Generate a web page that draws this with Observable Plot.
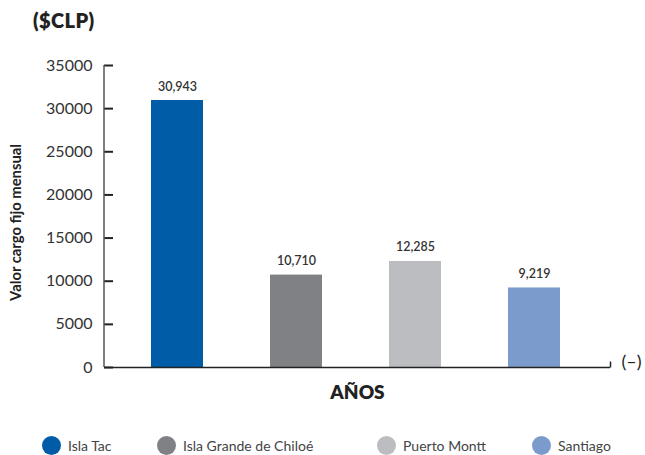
<!DOCTYPE html>
<html>
<head>
<meta charset="utf-8">
<script src="https://cdn.jsdelivr.net/npm/d3@7"></script>
<script src="https://cdn.jsdelivr.net/npm/@observablehq/plot@0.6"></script>
<style>
  html, body { margin: 0; padding: 0; background: #fff; }
  #wrap { position: relative; width: 645px; height: 455px; overflow: hidden; font-family: Lato, sans-serif; }
  #title { position: absolute; left: 33px; top: 8px; font: 800 20px Lato, sans-serif; color: #222; letter-spacing: 0.4px; }
  #chart { position: absolute; left: 0; top: 40px; }
  #legend { position: absolute; left: 0; top: 436px; width: 645px; height: 20px; }
  .item { position: absolute; top: 0; display: flex; align-items: center; font: 14px Lato, sans-serif; color: #444; white-space: nowrap; }
  .sw { width: 19px; height: 19px; border-radius: 50%; margin-right: 7px; }
</style>
</head>
<body>
<div id="wrap">
  <div id="title">($CLP)</div>
  <div id="chart"></div>
  <div id="legend"></div>
</div>
<script>
const categories = ["Isla Tac", "Isla Grande de Chiloé", "Puerto Montt", "Santiago"];
const values = [30943, 10710, 12285, 9219];
const colors = ["#015ca8", "#808184", "#bcbdc0", "#7c9bcd"];
const yTicks = [0, 5000, 10000, 15000, 20000, 25000, 30000, 35000];
const yLabel = "Valor cargo fijo mensual";
const xLabel = "AÑOS";
const unitLabel = "(–)";

const data = categories.map((c, i) => ({category: c, value: values[i]}));

const rightTick = {draw(ctx, size) { ctx.moveTo(0, 0); ctx.lineTo(0, -6); }};

// y-axis domain line drawn from the y scale
function yAxisLine(index, scales, values, dimensions) {
  const x = dimensions.marginLeft;
  const line = document.createElementNS("http://www.w3.org/2000/svg", "line");
  line.setAttribute("x1", x); line.setAttribute("x2", x);
  line.setAttribute("y1", scales.y(yTicks[0])); line.setAttribute("y2", scales.y(yTicks[yTicks.length - 1]));
  line.setAttribute("stroke", "#555"); line.setAttribute("stroke-width", 1.5);
  return line;
}

const plot = Plot.plot({
  width: 645,
  height: 375,
  marginLeft: 104,
  marginRight: 35,
  marginTop: 25,
  marginBottom: 48,
  style: {fontFamily: "Lato, sans-serif", overflow: "visible", color: "#333"},
  x: {domain: categories, range: [150, 560], paddingInner: 0.564, paddingOuter: 0, axis: null},
  y: {domain: [0, 35000], axis: null},
  color: {domain: categories, range: colors},
  marks: [
    Plot.barY(data, {x: "category", y: "value", fill: "category"}),
    Plot.axisY({ticks: yTicks, tickFormat: d => String(d), tickSize: -9, tickPadding: 21, stroke: "#222", strokeWidth: 2, fontSize: 16, fill: "#333", label: null}),
    yAxisLine,
    Plot.ruleY([0], {stroke: "#222", strokeWidth: 1.5}),
    Plot.dot([0], {frameAnchor: "bottom-right", symbol: rightTick, r: 4, stroke: "#222", strokeWidth: 1.5}),
    Plot.text(data, {x: "category", y: "value", text: d => d3.format(",")(d.value), dy: -14, fontSize: 12.5, fontWeight: 600, fill: "#333"}),
    Plot.text([unitLabel], {frameAnchor: "bottom-right", dx: 11, textAnchor: "start", fontSize: 18, fill: "#222"}),
    Plot.text([xLabel], {frameAnchor: "bottom", dy: 31, fontSize: 19, fontWeight: 800, fill: "#222"}),
    Plot.text([yLabel], {frameAnchor: "left", dx: -88, dy: 6, textAnchor: "middle", rotate: -90, fontSize: 14.8, fontWeight: 700, fill: "#222"})
  ]
});
document.getElementById("chart").appendChild(plot);

const legendLeft = [42, 157, 377, 532];
const legend = document.getElementById("legend");
categories.forEach((c, i) => {
  const item = document.createElement("div");
  item.className = "item";
  item.style.left = legendLeft[i] + "px";
  const sw = document.createElement("span");
  sw.className = "sw";
  sw.style.background = colors[i];
  const t = document.createElement("span");
  t.textContent = c;
  item.appendChild(sw);
  item.appendChild(t);
  legend.appendChild(item);
});
</script>
</body>
</html>
